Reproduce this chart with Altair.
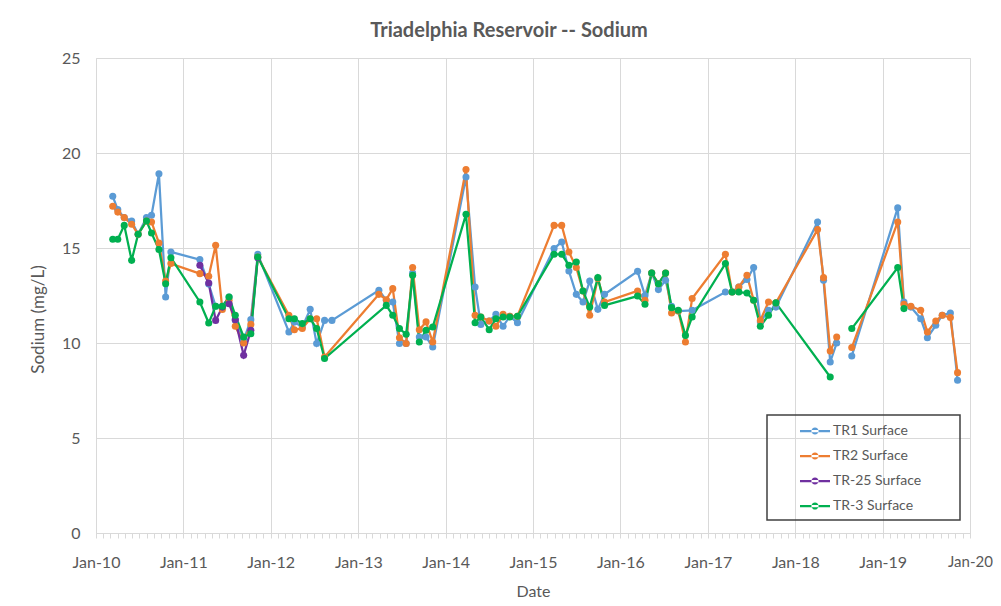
import altair as alt
import pandas as pd

dates = [
    "2010-03-12", "2010-04-02", "2010-04-29", "2010-05-30", "2010-06-26", "2010-07-31",
    "2010-08-21", "2010-09-21", "2010-10-19", "2010-11-10",
    "2011-03-11", "2011-04-17", "2011-05-16", "2011-06-13", "2011-07-11", "2011-08-06",
    "2011-09-10", "2011-10-10", "2011-11-08",
    "2012-03-17", "2012-04-09", "2012-05-12", "2012-06-14", "2012-07-11", "2012-08-13",
    "2012-09-13",
    "2013-03-28", "2013-04-28", "2013-05-25", "2013-06-22", "2013-07-20", "2013-08-16",
    "2013-09-13", "2013-10-11", "2013-11-08",
    "2014-03-27", "2014-05-04", "2014-05-28", "2014-07-02", "2014-07-30", "2014-08-29",
    "2014-09-26", "2014-10-28",
    "2015-03-30", "2015-05-01", "2015-05-31", "2015-07-01", "2015-07-29", "2015-08-26",
    "2015-09-29", "2015-10-27",
    "2016-03-13", "2016-04-13", "2016-05-11", "2016-06-08", "2016-07-08", "2016-08-02",
    "2016-08-30", "2016-09-29", "2016-10-27",
    "2017-03-15", "2017-04-12", "2017-05-10", "2017-06-13", "2017-07-11", "2017-08-08",
    "2017-09-11", "2017-10-12",
    "2018-04-04", "2018-04-29", "2018-05-27", "2018-06-23", "2018-08-25",
    "2019-03-05", "2019-03-31", "2019-04-29", "2019-06-09", "2019-07-07", "2019-08-11",
    "2019-09-07", "2019-10-11", "2019-11-10",
]

tr1 = [
    17.72, 17.02, 16.6, 16.42, 15.72, 16.6, 16.72, 18.91, 12.42, 14.79,
    14.39, 13.1, 11.93, 11.93, 12.42, 11.2, 10.14, 11.23, 14.67,
    10.58, 11.1, 10.84, 11.77, 9.97, 11.19, 11.19,
    12.77, 12.25, 12.16, 9.97, 9.97, 13.68, 10.32, 10.32, 9.79,
    18.74, 12.95, 10.98, 11.16, 11.51, 10.88, 11.4, 11.07,
    14.97, 15.32, 13.79, 12.56, 12.16, 13.26, 11.77, 12.56,
    13.77, 12.5, 13.68, 12.81, 13.3, 11.93, 11.68, None, 11.72,
    12.68, 12.68, 12.95, 13.34, 13.97, 11.11, 11.72, 11.89,
    16.37, 13.30, 9.0, 10.0, 9.32,
    17.11, 12.16, 11.89, 11.28, 10.28, 10.93, 11.46, 11.58, 8.04,
]

tr2 = [
    17.2, 16.89, 16.6, 16.25, 15.72, 16.42, 16.37, 15.26, 13.26, 14.18,
    13.65, 13.51, 15.14, 11.76, 12.25, 10.88, 10.0, 10.98, 14.53,
    11.46, 10.7, 10.76, 11.28, 11.28, 9.26, None,
    12.56, 12.28, 12.86, 10.28, 9.97, 13.97, 10.7, 11.11, 10.05,
    19.13, 11.46, 11.37, 11.16, 10.88, 11.51, 11.41, 11.41,
    16.19, 16.19, 14.79, 13.97, 12.74, 11.46, 13.39, 12.16,
    12.74, 12.25, 13.68, 13.12, 13.68, 11.58, 11.68, 10.05, 12.34,
    14.67, 12.68, 12.95, 13.56, 12.25, 11.19, 12.16, 12.11,
    15.97, 13.44, 9.58, 10.32, 9.76,
    16.37, 12.04, 11.93, 11.72, 10.58, 11.16, 11.46, 11.34, 8.44,
]

tr25 = [
    None, None, None, None, None, None, None, None, None, None,
    14.09, 13.16, 11.19, 11.89, 12.07, 11.23, 9.35, 10.67, 14.49,
] + [None] * 62

tr3 = [
    15.46, 15.46, 16.19, 14.35, 15.72, 16.42, 15.79, 14.92, 13.12, 14.49,
    12.16, 11.05, 11.93, 11.93, 12.42, 11.46, 10.32, 10.49, 14.53,
    11.28, 11.28, 11.02, 11.28, 10.76, 9.18, None,
    None, 11.98, 11.46, 10.76, 10.46, 13.56, 10.05, 10.67, 10.84,
    16.77, 11.07, 11.37, 10.7, 11.28, 11.37, 11.37, 11.41,
    14.67, 14.67, 14.09, 14.26, 12.74, 11.89, 13.44, 11.98,
    12.47, 12.04, 13.68, 13.12, 13.68, 11.86, 11.72, 10.4, 11.37,
    14.18, 12.68, 12.68, 12.63, 12.25, 10.88, 11.46, 12.11,
    None, None, 8.21, None, 10.76,
    13.97, 11.81, None, None, None, None, None, None, None,
]

series_names = ["TR1 Surface", "TR2 Surface", "TR-25 Surface", "TR-3 Surface"]
series_colors = ["#5B9BD5", "#ED7D31", "#7030A0", "#00B050"]
gap_after = "2018-07-15"

rows = []
for k, (name, vals) in enumerate(zip(series_names, [tr1, tr2, tr25, tr3])):
    for d, v in zip(dates, vals):
        if v is not None:
            rows.append({"date": d, "value": v, "series": name, "k": k,
                         "segment": 1 if d >= gap_after else 0})
df = pd.DataFrame(rows)

month_ticks = [int(t.value // 10**6) for t in pd.date_range("2010-01-01", "2020-01-01", freq="MS", tz="UTC")]
is_jan = "utcFormat(datum.value, '%m') == '01'"
is_last = "utcFormat(datum.value, '%Y') == '2020'"

FONT = "Lato"
TXT = "#595959"

x = alt.X(
    "date:T",
    scale=alt.Scale(type="utc", domain=[month_ticks[0], month_ticks[-1]]),
    axis=alt.Axis(
        values=month_ticks,
        labelExpr=f"{is_jan} ? utcFormat(datum.value, '%b-%y') : ''",
        gridOpacity={"condition": {"test": is_jan, "value": 1}, "value": 0},
        gridColor="#D9D9D9",
        tickColor="#D9D9D9",
        tickSize=5,
        domainColor="#D9D9D9",
        labelOverlap=False,
        labelFlush=False,
        labelBound=False,
        labelPadding=16,
        labelFontSize={"condition": {"test": is_last, "value": 15}, "value": 16},
        labelColor=TXT,
        labelFont=FONT,
        title="Date",
        titleFontSize=16,
        titleFont=FONT,
        titleColor=TXT,
        titleFontWeight="normal",
        titlePadding=13,
    ),
)
y = alt.Y(
    "value:Q",
    scale=alt.Scale(domain=[0, 25]),
    axis=alt.Axis(
        values=[0, 5, 10, 15, 20, 25],
        domain=False,
        ticks=False,
        gridColor="#D9D9D9",
        labelPadding=16,
        labelFontSize=16,
        labelColor=TXT,
        labelFont=FONT,
        title="Sodium (mg/L)",
        titleFontSize=17,
        titleFont=FONT,
        titleColor=TXT,
        titleFontWeight="normal",
        titlePadding=14,
        titleY=261,
    ),
)

sym = ("M-1,-0.075H1V0.075H-1Z "
       "M-0.24,0A0.24,0.24,0,1,0,0.24,0A0.24,0.24,0,1,0,-0.24,0Z")

color = alt.Color(
    "series:N",
    scale=alt.Scale(domain=series_names, range=series_colors),
    legend=alt.Legend(
        title=None,
        orient="none",
        legendX=704,
        legendY=358,
        symbolType=sym,
        symbolSize=900,
        symbolStrokeWidth=0,
        symbolOpacity=1,
        labelFontSize=14,
        labelFont=FONT,
        labelColor=TXT,
        labelOffset=3,
        rowPadding=3,
        padding=0,
    ),
)

points = alt.Chart(df).mark_circle(size=50, opacity=1).encode(
    x=x, y=y, color=color, order=alt.Order("k:Q")
)
lines = alt.Chart(df).mark_line(strokeWidth=2.25).encode(
    x=x, y=y, color=color, detail="segment:N", order=alt.Order("date:T")
)

box = alt.Chart(alt.Data(values=[{"a": 1}])).mark_rect(
    fill="white", fillOpacity=0, stroke="#404040", strokeWidth=1.5
).encode(x=alt.value(671), x2=alt.value(864), y=alt.value(357), y2=alt.value(462))

chart = alt.layer(lines, points, box).properties(
    width=874,
    height=475,
    title=alt.TitleParams(
        "Triadelphia Reservoir -- Sodium",
        fontSize=20,
        fontWeight="bold",
        font=FONT,
        color=TXT,
        anchor="middle",
        dx=-24,
        offset=9,
    ),
    autosize=alt.AutoSizeParams(type="none"),
    padding={"left": 88, "top": 50, "right": 23, "bottom": 66},
).configure_view(strokeWidth=0).configure(background="white")

chart.save("out.html", embed_options={"renderer": "svg", "actions": False})
